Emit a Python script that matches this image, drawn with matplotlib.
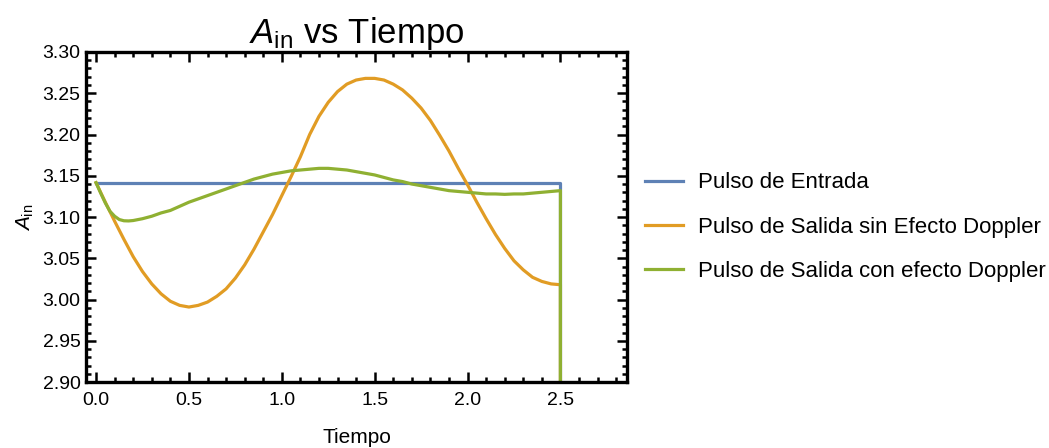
import matplotlib
matplotlib.use("Agg")
import matplotlib.pyplot as plt
from matplotlib.ticker import MultipleLocator

plt.rcParams['font.family'] = ['Liberation Sans', 'DejaVu Sans']
plt.rcParams['mathtext.fontset'] = 'custom'
plt.rcParams['mathtext.rm'] = 'Liberation Sans'
plt.rcParams['mathtext.it'] = 'Liberation Sans:italic'

# values
t_end = 2.5        # pulse ends here, everything drops to 0 afterwards
a_off = 0.0

t_in = [0.0, 2.5]
a_in = [3.1416, 3.1416]

t = [0.00, 0.05, 0.10, 0.15, 0.20, 0.25, 0.30, 0.35, 0.40, 0.45,
     0.50, 0.55, 0.60, 0.65, 0.70, 0.75, 0.80, 0.85, 0.90, 0.95,
     1.00, 1.05, 1.10, 1.15, 1.20, 1.25, 1.30, 1.35, 1.40, 1.45,
     1.50, 1.55, 1.60, 1.65, 1.70, 1.75, 1.80, 1.85, 1.90, 1.95,
     2.00, 2.05, 2.10, 2.15, 2.20, 2.25, 2.30, 2.35, 2.40, 2.45, 2.50]

a_sin = [3.1416, 3.118, 3.095, 3.073, 3.052, 3.034, 3.019, 3.007, 2.998, 2.993,
         2.991, 2.993, 2.997, 3.004, 3.013, 3.026, 3.042, 3.061, 3.082, 3.103,
         3.126, 3.149, 3.173, 3.200, 3.222, 3.239, 3.252, 3.261, 3.266, 3.268,
         3.268, 3.266, 3.261, 3.254, 3.244, 3.232, 3.217, 3.199, 3.180, 3.159,
         3.139, 3.118, 3.098, 3.079, 3.062, 3.047, 3.036, 3.027, 3.022, 3.019, 3.018]

t_con = [0.0, 0.025, 0.05, 0.075, 0.10, 0.125, 0.15, 0.175, 0.20, 0.25,
         0.30, 0.35, 0.40, 0.45, 0.50, 0.55, 0.60, 0.65, 0.70, 0.75,
         0.80, 0.85, 0.90, 0.95, 1.00, 1.05, 1.10, 1.15, 1.20, 1.25,
         1.30, 1.35, 1.40, 1.45, 1.50, 1.55, 1.60, 1.65, 1.70, 1.75,
         1.80, 1.85, 1.90, 1.95, 2.00, 2.05, 2.10, 2.15, 2.20, 2.25,
         2.30, 2.35, 2.40, 2.45, 2.50]
a_con = [3.1416, 3.129, 3.117, 3.107, 3.101, 3.097, 3.0955, 3.0953, 3.0958, 3.098,
         3.101, 3.105, 3.108, 3.113, 3.118, 3.122, 3.126, 3.130, 3.134, 3.138,
         3.142, 3.146, 3.149, 3.152, 3.154, 3.156, 3.157, 3.158, 3.159, 3.159,
         3.158, 3.157, 3.155, 3.153, 3.151, 3.148, 3.145, 3.143, 3.140, 3.138,
         3.136, 3.134, 3.132, 3.131, 3.130, 3.129, 3.128, 3.128, 3.1275, 3.128,
         3.128, 3.129, 3.130, 3.131, 3.132]

labels = ['Pulso de Entrada',
          'Pulso de Salida sin Efecto Doppler',
          'Pulso de Salida con efecto Doppler']
colors = ['#5E81B5', '#E19C24', '#8FB032']

fig = plt.figure(figsize=(10.49, 4.48), dpi=100)
ax = fig.add_axes([0.082, 0.147, 0.516, 0.737])

series = [(t_in, a_in), (t, a_sin), (t_con, a_con)]
for (xs, ys), c, lab in zip(series, colors, labels):
    ax.plot(list(xs) + [t_end], list(ys) + [a_off], color=c, lw=2.3, label=lab)

ax.set_xlim(-0.054, 2.86)
ax.set_ylim(2.90, 3.30)
ax.xaxis.set_major_locator(MultipleLocator(0.5))
ax.xaxis.set_minor_locator(MultipleLocator(0.1))
ax.yaxis.set_major_locator(MultipleLocator(0.05))
ax.yaxis.set_minor_locator(MultipleLocator(0.01))
ax.xaxis.set_major_formatter(lambda v, p: '%.1f' % v)
ax.yaxis.set_major_formatter(lambda v, p: '%.2f' % v)

for s in ax.spines.values():
    s.set_linewidth(2.4)
ax.tick_params(which='both', direction='in', top=True, right=True,
               labelsize=14, width=1.8)
ax.tick_params(which='major', length=7, pad=4)
ax.tick_params(axis='x', which='major', pad=7)
ax.tick_params(which='minor', length=3.5)

ax.set_title(r'$A_{\mathrm{in}}$ vs Tiempo', fontsize=25, pad=3)
ax.set_xlabel('Tiempo', fontsize=15, labelpad=14)
ax.set_ylabel(r'$A_{\mathrm{in}}$', fontsize=15, labelpad=5)

fig.legend(loc='center left', bbox_to_anchor=(0.615, 0.493), frameon=False,
           borderpad=0, borderaxespad=0, fontsize=16, handlelength=1.7,
           handletextpad=0.7, labelspacing=1.05)

fig.savefig('out.png', dpi=100)
